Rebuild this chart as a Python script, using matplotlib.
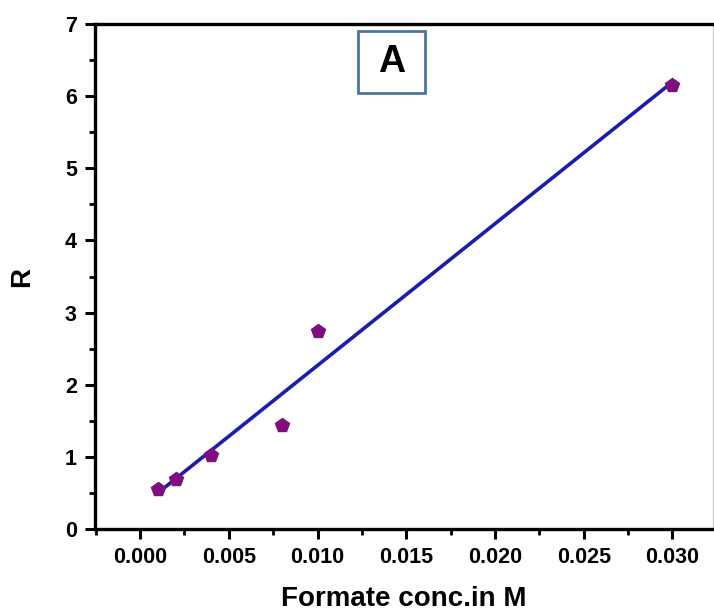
import numpy as np
import matplotlib
matplotlib.use("Agg")
import matplotlib.pyplot as plt
from matplotlib.ticker import MultipleLocator
from matplotlib.patches import Rectangle

# formate concentration (M) vs response R
conc = [0.001, 0.002, 0.004, 0.008, 0.010, 0.030]
R = [0.55, 0.70, 1.03, 1.44, 2.74, 6.16]

plt.rcParams['font.family'] = ['Liberation Sans', 'DejaVu Sans']
plt.rcParams['font.weight'] = 'bold'

fig = plt.figure(figsize=(7.14, 6.12), dpi=100)
ax = fig.add_axes([0.133, 0.1356, 0.866, 0.8252])

# least squares line through the points
slope, icept = np.polyfit(conc, R, 1)
xfit = np.array([min(conc), max(conc)])
ax.plot(xfit, slope * xfit + icept, color='#1c1cb4', lw=2.6, zorder=2)
ax.plot(conc, R, linestyle='none', marker='p', ms=10.5, color='#7f0f7f',
        markeredgecolor='#7f0f7f', zorder=3)

ax.set_xlim(-0.00254, 0.0323)
ax.set_ylim(0, 7)
ax.xaxis.set_major_locator(MultipleLocator(0.005))
ax.xaxis.set_minor_locator(MultipleLocator(0.0025))
ax.yaxis.set_major_locator(MultipleLocator(1))
ax.yaxis.set_minor_locator(MultipleLocator(0.5))
ax.xaxis.set_major_formatter(plt.FuncFormatter(lambda v, p: f"{v:.3f}"))

ax.tick_params(which='major', direction='out', length=7, width=2.2,
               labelsize=15.5, pad=6)
ax.tick_params(which='minor', direction='out', length=4, width=2.0)
ax.tick_params(top=False, right=False, which='both')

for side in ['left', 'bottom', 'top']:
    ax.spines[side].set_linewidth(2.4)
ax.spines['right'].set_linewidth(1.0)
ax.spines['right'].set_color('#cccccc')

ax.set_xlabel('Formate conc.in M', fontsize=20, fontweight='bold', labelpad=13)
ax.set_ylabel('R', fontsize=20, fontweight='bold')
ax.yaxis.set_label_coords(-0.097, 0.5)

# panel tag
fig.add_artist(Rectangle((0.5014, 0.848), 0.0938, 0.1013,
                         transform=fig.transFigure, fc='white',
                         ec='#4a74a6', lw=2))
fig.text(0.548, 0.8987, 'A', fontsize=27, fontweight='bold', ha='center',
         va='center')

fig.savefig('out.png', dpi=100)
